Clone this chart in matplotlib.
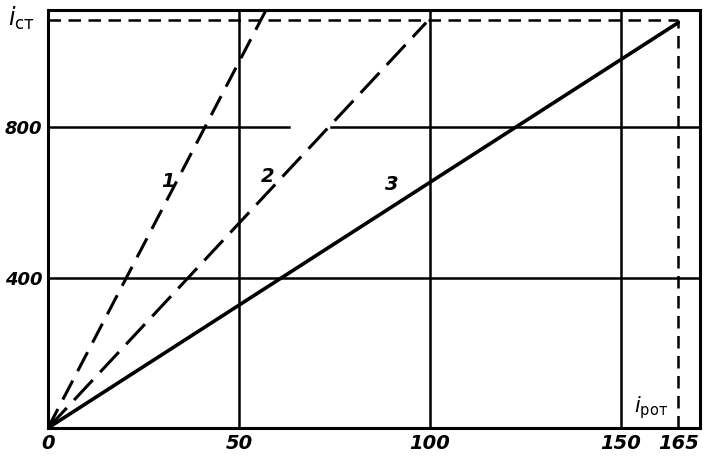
import matplotlib
matplotlib.use("Agg")
import matplotlib.pyplot as plt

plt.rcParams['font.family'] = ['DejaVu Sans']

# зависимость тока статора от тока ротора
x_ticks = [0, 50, 100, 150, 165]
y_ticks = [400, 800]
line1_x = [0, 57]
line1_y = [0, 1110]
line2_x = [0, 99]
line2_y = [0, 1078]
line3_x = [0, 165]
line3_y = [0, 1078]
i_rot = 165
i_st = 1085

fig = plt.figure(figsize=(7.07, 4.61), dpi=100)
ax = fig.add_axes([48 / 707, 33 / 461, 652 / 707, 418.5 / 461])
ax.set_xlim(0, 170.7)
ax.set_ylim(0, 1113)

# сетка
for xv in [50, 100, 150]:
    ax.axvline(xv, color='black', lw=1.8, zorder=1)
ax.axhline(400, color='black', lw=1.8, zorder=1)
ax.plot([0, 63], [800, 800], color='black', lw=1.8, zorder=1)
ax.plot([74, 171], [800, 800], color='black', lw=1.8, zorder=1)

# кривые
ax.plot(line1_x, line1_y, color='black', lw=2.2, dashes=(7, 3.5))
ax.plot(line2_x, line2_y, color='black', lw=2.2, dashes=(9, 3.5))
ax.plot(line3_x, line3_y, color='black', lw=2.6, solid_capstyle='round')

# пунктир до рабочей точки
ax.plot([0, i_rot], [i_st, i_st], color='black', lw=1.8, dashes=(5, 3))
ax.plot([i_rot, i_rot], [0, i_st], color='black', lw=1.8, dashes=(5, 3))

for s in ax.spines.values():
    s.set_linewidth(2.2)

ax.set_xticks(x_ticks)
ax.set_yticks(y_ticks)
ax.set_xticklabels([str(v) for v in x_ticks], fontsize=14, fontstyle='italic', fontweight='bold')
ax.set_yticklabels([str(v) for v in y_ticks], fontsize=13, fontstyle='italic', fontweight='bold')
ax.tick_params(length=0, pad=4)

ax.text(31.5, 655, '1', fontsize=14, fontstyle='italic', fontweight='bold', ha='center', va='center')
ax.text(57.5, 668, '2', fontsize=14, fontstyle='italic', fontweight='bold', ha='center', va='center')
ax.text(90, 648, '3', fontsize=14, fontstyle='italic', fontweight='bold', ha='center', va='center')
ax.text(158, 55, r'$i_{\mathrm{рот}}$', fontsize=15, ha='center', va='center')
fig.text(8 / 707, 1 - 18 / 461, r'$i_{\mathrm{ст}}$', fontsize=17, ha='left', va='center')

fig.savefig('out.png', dpi=100)
